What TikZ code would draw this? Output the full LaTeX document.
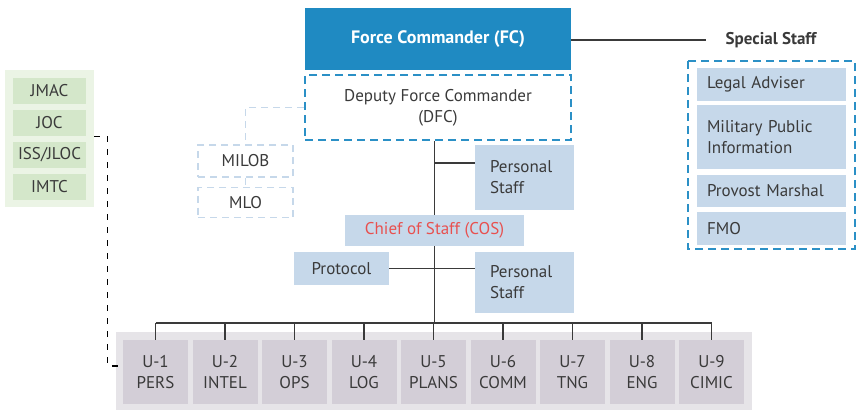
\documentclass[tikz,border=0pt]{standalone}
\usepackage{fontspec}
\setmainfont{PT Sans}
\usepackage{tikz}

\definecolor{fcblue}{HTML}{1F8AC2}
\definecolor{dashblue}{HTML}{2B90C6}
\definecolor{paleblue}{HTML}{C6D8EA}
\definecolor{cosred}{HTML}{E8504F}
\definecolor{txt}{HTML}{3A3A3A}
\definecolor{barbg}{HTML}{E6E4E8}
\definecolor{ubox}{HTML}{D3CED7}
\definecolor{greenbg}{HTML}{EBF4E5}
\definecolor{greenbox}{HTML}{D4E7CA}

\tikzset{
  every node/.style={font=\fontsize{8.5}{10.5}\selectfont, text=txt, inner sep=0pt},
  conn/.style={draw=txt, line width=0.6pt},
  fcbox/.style={fill=fcblue, text=white, font=\fontsize{9}{11}\selectfont\bfseries, minimum width=133pt, minimum height=31pt},
  dfcbox/.style={draw=dashblue, line width=1pt, dash pattern=on 4pt off 2.5pt, minimum width=133pt, minimum height=32.5pt, align=center},
  persbox/.style={fill=paleblue, minimum width=49.5pt, text width=34.5pt, align=left},
  bluebox/.style={fill=paleblue, align=center},
  obsbox/.style={draw=paleblue, line width=0.8pt, dash pattern=on 3.5pt off 2.5pt, minimum width=47.5pt, align=center},
  specbox/.style={fill=paleblue, minimum width=74.5pt, text width=64.5pt, align=left},
  cellbox/.style={fill=greenbox, minimum width=36.5pt, minimum height=13pt},
  unit/.style={fill=ubox, minimum width=32.5pt, minimum height=32pt, align=center}
}

\begin{document}
\begin{tikzpicture}[x=0.5pt, y=-0.5pt]
  \useasboundingbox (0,0) rectangle (860,412);

  % command line
  \node[fcbox] (fc) at (438,39) {Force Commander (FC)};
  \node[dfcbox] (dfc) at (438,107.5) {Deputy Force Commander\\(DFC)};
  \node[persbox, minimum height=32.5pt] (ps1) at (524.5,177.5) {Personal\\Staff};
  \node[bluebox, minimum width=89.5pt, minimum height=15.5pt, text=cosred] (cos) at (434.5,230.5) {Chief of Staff (COS)};
  \node[bluebox, minimum width=47.5pt, minimum height=16.5pt] (proto) at (341.5,268.5) {Protocol};
  \node[persbox, minimum height=30.5pt] (ps2) at (524.5,282.5) {Personal\\Staff};

  % observers
  \node[obsbox, minimum height=16pt] (milob) at (245.5,161) {MILOB};
  \node[obsbox, minimum height=15pt] (mlo) at (245.5,202.5) {MLO};
  \draw[draw=paleblue, line width=0.8pt, dash pattern=on 3.5pt off 2.5pt] (dfc.west) -| (milob.north);
  \draw[draw=paleblue, line width=0.8pt, dash pattern=on 3.5pt off 2.5pt] (milob.south) -- (mlo.north);

  % special staff
  \node[font=\fontsize{8.5}{10}\selectfont\bfseries] (sstitle) at (771,40) {Special Staff};
  \draw[draw=dashblue, line width=1pt, dash pattern=on 4pt off 2.5pt] (688,61) rectangle (855,249);
  \node[specbox, minimum height=16.5pt] (legal) at (771.5,84.5) {Legal Adviser};
  \node[specbox, minimum height=32pt] (mpi) at (771.5,137) {Military Public\\Information};
  \node[specbox, minimum height=16pt] (provost) at (771.5,191) {Provost Marshal};
  \node[specbox, minimum height=16.5pt] (fmo) at (771.5,228.5) {FMO};
  \coordinate (ssend) at (706,40);
  \draw[conn] (fc.east |- ssend) -- (ssend);

  % joint cells
  \node[fill=greenbg, minimum width=44.5pt, minimum height=68.5pt] (cells) at (49.5,138.5) {};
  \node[cellbox] (jmac) at (49.5,91) {JMAC};
  \node[cellbox] (joc) at (49.5,123) {JOC};
  \node[cellbox] (iss) at (49.5,155) {ISS/JLOC};
  \node[cellbox] (imtc) at (49.5,187) {IMTC};

  % units
  \node[fill=barbg, minimum width=318pt, minimum height=39pt] (ubar) at (434,371) {};
  \foreach \n/\lab in {1/PERS,2/INTEL,3/OPS,4/LOG,5/PLANS,6/COMM,7/TNG,8/ENG,9/CIMIC}
    \node[unit] (u\n) at ({155.5+69.5*(\n-1)},372) {U-\n\\\lab};

  % links
  \coordinate (bus) at (434,323);
  \coordinate (t1) at (434,163);
  \draw[conn] (dfc.south -| cos.north) -- (cos.north);
  \draw[conn] (cos.south) -- (cos.south |- bus);
  \draw[conn] (t1) -- (t1 -| ps1.west);
  \draw[conn] (proto.east) -- (proto.east -| ps2.west);
  \draw[conn] (u1.north |- bus) -- (u9.north |- bus);
  \foreach \n in {1,...,9}
    \draw[conn] (u\n.north) -- (u\n.north |- bus);

  \coordinate (jend) at (121,366);
  \draw[draw=black, line width=0.6pt, dash pattern=on 3pt off 3.5pt] (cells.east |- joc.south) -- ++(13,0) |- (jend);
\end{tikzpicture}
\end{document}
